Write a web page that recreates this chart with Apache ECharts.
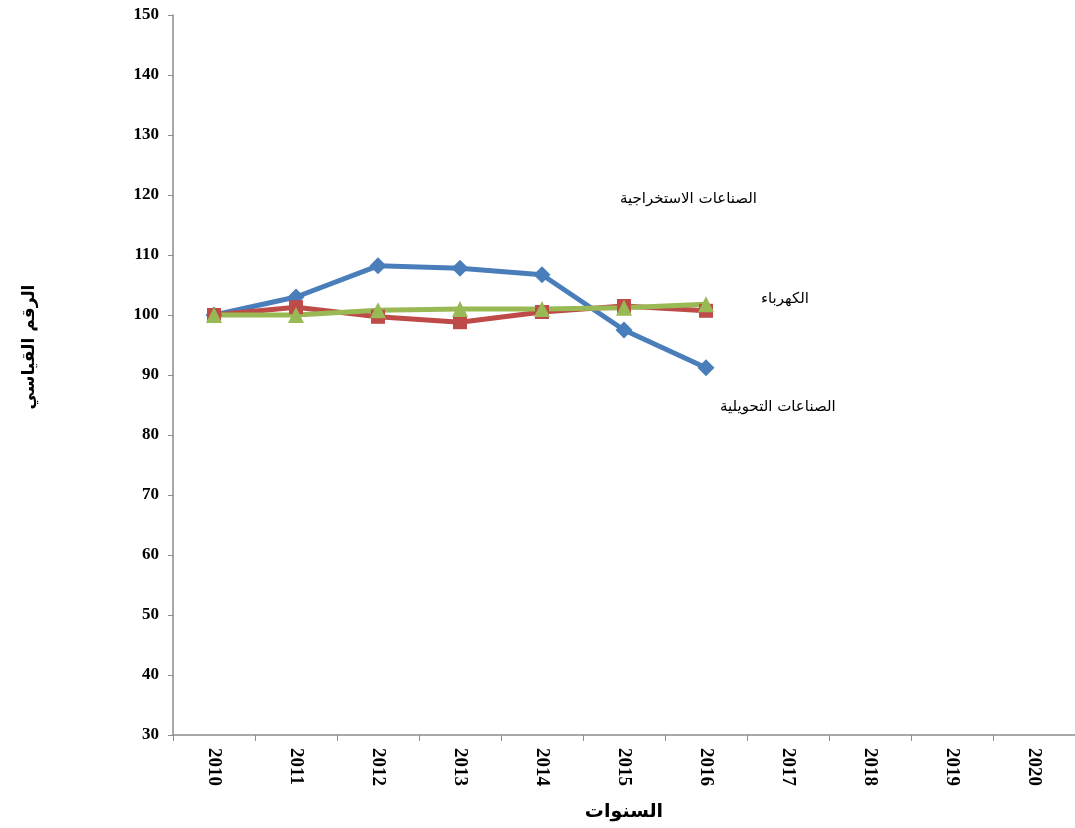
<!DOCTYPE html>
<html>
<head>
    <meta charset="UTF-8">
    <title>الرقم القياسي</title>
    <script src="https://cdn.jsdelivr.net/npm/echarts@6/dist/echarts.min.js"></script>
    <style>
        *{padding:0;margin:0}
        body{background:#fff}
        #chart{width:1075px;height:828px}
    </style>
</head>
<body>
<div id="chart"></div>
<script>
    var years = ['2010','2011','2012','2013','2014','2015','2016','2017','2018','2019','2020'];
    // الصناعات الاستخراجية
    var extractive = [100, 103, 108.2, 107.8, 106.7, 97.5, 91.2];
    // الصناعات التحويلية
    var manufacturing = [100, 101.3, 99.7, 98.8, 100.5, 101.5, 100.7];
    // الكهرباء
    var electricity = [100, 100, 100.8, 101, 101, 101.2, 101.8];

    var arabicFont = 'DejaVu Sans';
    var numFont = 'Liberation Serif';

    var chart = echarts.init(document.getElementById('chart'));
    var option = {
        animation: false,
        grid: {left: 173, top: 15, width: 909, height: 720},
        xAxis: {
            type: 'category',
            data: years,
            boundaryGap: true,
            name: 'السنوات',
            nameLocation: 'middle',
            nameGap: 68,
            nameTextStyle: {fontFamily: arabicFont, fontWeight: 'bold', fontSize: 19, color: '#000'},
            axisLine: {lineStyle: {color: '#8c8c8c', width: 1.5}},
            axisTick: {show: true, length: 6, lineStyle: {color: '#8c8c8c'}},
            axisLabel: {rotate: -90, margin: 13, fontFamily: numFont, fontWeight: 'bold', fontSize: 19, color: '#000'},
            splitLine: {show: false}
        },
        yAxis: {
            type: 'value',
            min: 30, max: 150, interval: 10,
            name: 'الرقم القياسي',
            nameLocation: 'middle',
            nameRotate: 90,
            nameGap: 135,
            nameTextStyle: {fontFamily: arabicFont, fontWeight: 'bold', fontSize: 17, color: '#000', padding: [0, 0, 0, 56]},
            axisLine: {show: true, lineStyle: {color: '#8c8c8c', width: 1.5}},
            axisTick: {show: true, length: 5, lineStyle: {color: '#8c8c8c'}},
            axisLabel: {margin: 14, fontFamily: numFont, fontWeight: 'bold', fontSize: 17, color: '#000'},
            splitLine: {show: false}
        },
        series: [
            {
                name: 'الصناعات الاستخراجية', type: 'line', data: extractive,
                symbol: 'diamond', symbolSize: 17,
                lineStyle: {width: 5, color: '#4A7EBB'},
                itemStyle: {color: '#4A7EBB'}
            },
            {
                name: 'الصناعات التحويلية', type: 'line', data: manufacturing,
                symbol: 'rect', symbolSize: 14,
                lineStyle: {width: 5, color: '#BE4B48'},
                itemStyle: {color: '#BE4B48'}
            },
            {
                name: 'الكهرباء', type: 'line', data: electricity,
                symbol: 'triangle', symbolSize: 16,
                lineStyle: {width: 5, color: '#98B954'},
                itemStyle: {color: '#98B954'}
            }
        ],
        graphic: [
            {type: 'text', left: 620, top: 192, style: {text: 'الصناعات الاستخراجية', font: '15px "DejaVu Sans"', fill: '#000'}},
            {type: 'text', left: 761, top: 292, style: {text: 'الكهرباء', font: '15px "DejaVu Sans"', fill: '#000'}},
            {type: 'text', left: 720, top: 400, style: {text: 'الصناعات التحويلية', font: '15px "DejaVu Sans"', fill: '#000'}}
        ]
    };
    chart.setOption(option);
</script>
</body>
</html>
